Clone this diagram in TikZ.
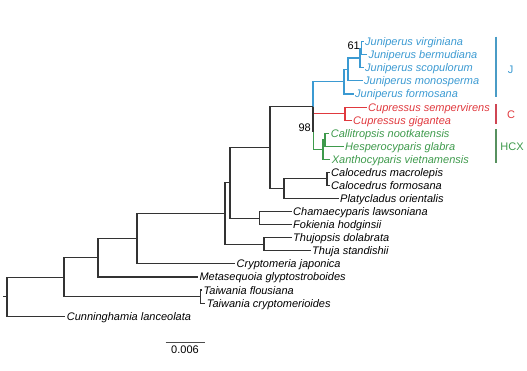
\documentclass[tikz,border=0pt]{standalone}
\usepackage{fontspec}
\setmainfont{Liberation Sans}
\definecolor{jblue}{HTML}{3B9AD2}
\definecolor{cred}{HTML}{E0393E}
\definecolor{hgreen}{HTML}{3E9A4C}
\definecolor{jbar}{HTML}{4A9CC6}
\definecolor{cbar}{HTML}{CF4653}
\definecolor{hbar}{HTML}{57915F}
\definecolor{brc}{HTML}{333333}
\begin{document}
\begin{tikzpicture}[x=1pt,y=-1pt,
  br/.style={draw=brc,line width=1.1pt},
  bb/.style={draw=jblue,line width=1.1pt},
  rb/.style={draw=cred,line width=1.1pt},
  gb/.style={draw=hgreen,line width=1.1pt},
  leaf/.style={font=\fontsize{11}{13}\selectfont\itshape,inner xsep=1.5pt,inner ysep=0pt,text height=8pt,text depth=0pt,anchor=west},
  supp/.style={font=\fontsize{11}{13}\selectfont,inner sep=0pt,text height=8pt,text depth=0pt,anchor=east},
  grp/.style={font=\fontsize{11}{13}\selectfont,inner sep=0pt,text height=8pt,text depth=0pt},
  barline/.style={line width=2.2pt}]
\useasboundingbox (0,0) rectangle (527,370);

% internal nodes
\coordinate (rootstub) at (3,296.7);
\coordinate (r) at (7,296.7);
\coordinate (n1) at (64,277.2);
\coordinate (tai) at (200.7,296.6);
\coordinate (n2) at (98,257.8);
\coordinate (n3) at (137,238.7);
\coordinate (n4) at (225,213.6);
\coordinate (t) at (264,244.3);
\coordinate (n5) at (230,182.9);
\coordinate (cham) at (259.3,218.1);
\coordinate (n6) at (270,147.7);
\coordinate (cp) at (284,188.7);
\coordinate (cal) at (327,178.9);
\coordinate (x0) at (313,106.6);
\coordinate (x1) at (313.6,131.6);
\coordinate (j0) at (344,81.7);
\coordinate (j1) at (348,69.5);
\coordinate (j2) at (360,58.0);
\coordinate (j3) at (361.5,48.2);
\coordinate (cu) at (345,113.6);
\coordinate (h0) at (323,149.5);
\coordinate (h1) at (325,139.7);

% leaves
\node[leaf,text=jblue] (virg) at (363.5,41.7) {Juniperus virginiana};
\node[leaf,text=jblue] (berm) at (366.8,54.77) {Juniperus bermudiana};
\node[leaf,text=jblue] (scop) at (363.5,67.84) {Juniperus scopulorum};
\node[leaf,text=jblue] (mono) at (362.5,80.91) {Juniperus monosperma};
\node[leaf,text=jblue] (form) at (353.5,93.98) {Juniperus formosana};
\node[leaf,text=cred] (semp) at (366.5,107.05) {Cupressus sempervirens};
\node[leaf,text=cred] (gig) at (351.5,120.12) {Cupressus gigantea};
\node[leaf,text=hgreen] (call) at (329.2,133.19) {Callitropsis nootkatensis};
\node[leaf,text=hgreen] (hesp) at (343.5,146.26) {Hesperocyparis glabra};
\node[leaf,text=hgreen] (xan) at (330.2,159.33) {Xanthocyparis vietnamensis};
\node[leaf] (calm) at (329.5,172.4) {Calocedrus macrolepis};
\node[leaf] (calf) at (329.5,185.47) {Calocedrus formosana};
\node[leaf] (platy) at (338.5,198.54) {Platycladus orientalis};
\node[leaf] (chamae) at (291.5,211.61) {Chamaecyparis lawsoniana};
\node[leaf] (fok) at (291.5,224.68) {Fokienia hodginsii};
\node[leaf] (thujopsis) at (291.5,237.75) {Thujopsis dolabrata};
\node[leaf] (thuja) at (310.5,250.82) {Thuja standishii};
\node[leaf] (crypto) at (235,263.89) {Cryptomeria japonica};
\node[leaf] (meta) at (197.8,276.96) {Metasequoia glyptostroboides};
\node[leaf] (tf) at (202,290.03) {Taiwania flousiana};
\node[leaf] (tc) at (205.2,303.1) {Taiwania cryptomerioides};
\node[leaf] (cunn) at (65.2,316.17) {Cunninghamia lanceolata};

% Juniperus
\draw[bb] (x0) |- (j0);
\draw[bb] (j0) |- (j1);
\draw[bb] (j0) |- (form.west);
\draw[bb] (j1) |- (j2);
\draw[bb] (j1) |- (mono.west);
\draw[bb] (j2) |- (j3);
\draw[bb] (j2) |- (scop.west);
\draw[bb] (j3) |- (virg.west);
\draw[bb] (j3) |- (berm.west);
% Cupressus
\draw[rb] (x1) |- (cu);
\draw[rb] (cu) |- (semp.west);
\draw[rb] (cu) |- (gig.west);
% HCX
\draw[gb] (x1) |- (h0);
\draw[gb] (h0) |- (h1);
\draw[gb] (h0) |- (xan.west);
\draw[gb] (h1) |- (call.west);
\draw[gb] (h1) |- (hesp.west);

% black branches
\draw[br] (rootstub) -- (r);
\draw[br] (r) |- (cunn.west);
\draw[br] (r) |- (n1);
\draw[br] (n1) |- (tai);
\draw[br] (n1) |- (n2);
\draw[br] (tai) |- (tf.west);
\draw[br] (tai) |- (tc.west);
\draw[br] (n2) |- (meta.west);
\draw[br] (n2) |- (n3);
\draw[br] (n3) |- (crypto.west);
\draw[br] (n3) |- (n4);
\draw[br] (n4) |- (n5);
\draw[br] (n4) |- (t);
\draw[br] (t) |- (thujopsis.west);
\draw[br] (t) |- (thuja.west);
\draw[br] (n5) |- (n6);
\draw[br] (n5) |- (cham);
\draw[br] (cham) |- (chamae.west);
\draw[br] (cham) |- (fok.west);
\draw[br] (n6) |- (x0);
\draw[br] (n6) |- (cp);
\draw[br] (cp) |- (cal);
\draw[br] (cp) |- (platy.west);
\draw[br] (cal) |- (calm.west);
\draw[br] (cal) |- (calf.west);
\draw[br] (x0) |- (x1);

% support values
\node[supp] (s61) at (360,45.5) {61};
\node[supp] (s98) at (311,127) {98};

% group bars
\draw[barline,jbar] (496,36.7) -- (496,96.7);
\draw[barline,cbar] (496,104) -- (496,124);
\draw[barline,hbar] (496,129.3) -- (496,163.3);
\node[grp,text=jblue] (gJ) at (510.5,69.3) {J};
\node[grp,text=cred] (gC) at (511,114) {C};
\node[grp,text=hgreen] (gH) at (512,146.7) {HCX};

% scale bar
\coordinate (sb1) at (165.5,342.7);
\coordinate (sb2) at (204.5,342.7);
\draw[draw=black!70,line width=0.7pt] (sb1) -- (sb2);
\node[grp] (scale) at (185,349.7) {0.006};
\end{tikzpicture}
\end{document}
